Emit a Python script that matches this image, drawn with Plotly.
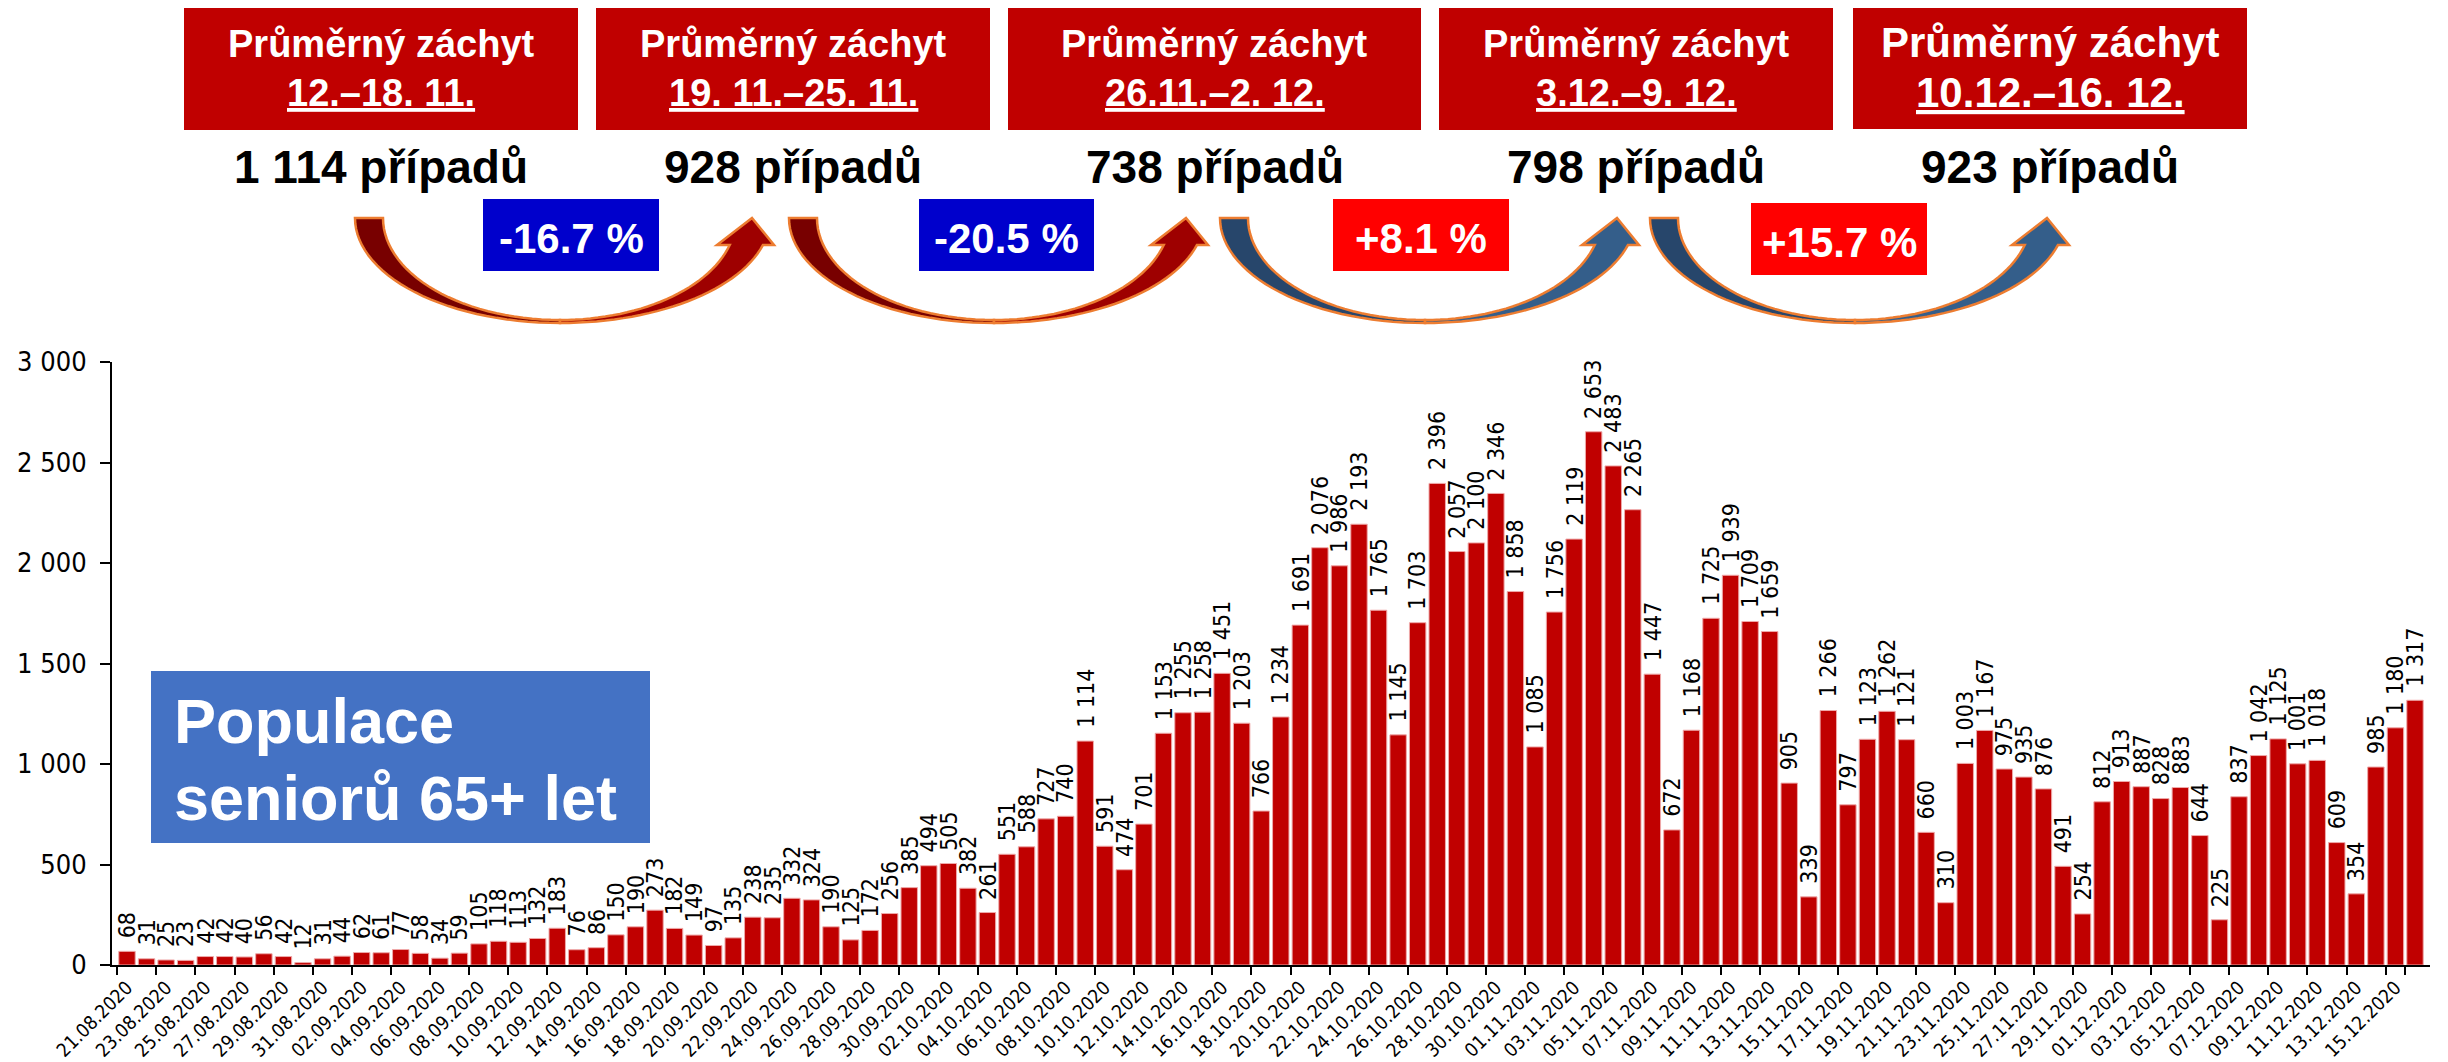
import math

import pandas as pd
import plotly.graph_objects as go

# daily new cases, population 65+
dates = pd.date_range("2020-08-21", "2020-12-16", freq="D").strftime("%d.%m.%Y").tolist()
cases = [
    68, 31, 25, 23, 42, 42, 40, 56, 42, 12, 31,
    44, 62, 61, 77, 58, 34, 59, 105, 118, 113, 132, 183, 76, 86, 150, 190, 273, 182, 149, 97,
    135, 238, 235, 332, 324, 190, 125, 172, 256, 385,
    494, 505, 382, 261, 551, 588, 727, 740, 1114, 591, 474, 701, 1153, 1255, 1258, 1451, 1203, 766,
    1234, 1691, 2076, 1986, 2193, 1765, 1145, 1703, 2396, 2057, 2100, 2346, 1858,
    1085, 1756, 2119, 2653, 2483, 2265, 1447, 672, 1168, 1725, 1939, 1709, 1659, 905, 339, 1266,
    797, 1123, 1262, 1121, 660, 310, 1003, 1167, 975, 935, 876, 491, 254, 812,
    913, 887, 828, 883, 644, 225, 837, 1042, 1125, 1001, 1018, 609, 354, 985, 1180, 1317,
]
tick_labels = dates[::2]

# weekly averages shown in the header
periods = ["12.–18. 11.", "19. 11.–25. 11.", "26.11.–2. 12.", "3.12.–9. 12.", "10.12.–16. 12."]
averages = [1114, 928, 738, 798, 923]
changes = [-16.7, -20.5, 8.1, 15.7]

NARROW = "Liberation Sans Narrow, DejaVu Sans Condensed, Arial Narrow, sans-serif"
SANS = "Liberation Sans, Arial, sans-serif"

# page is 2448x1062, the plot div sits 8px in from the top-left body margin
PAGE_W, PAGE_H, OFF = 2448, 1062, 8
L, R, T, B = 112, 2430, 362, 965  # plot area in page pixels


def px(x):
    return (x - L) / (R - L)


def py(y):
    return (B - y) / (B - T)


def num(v):
    return f"{v:,}".replace(",", " ")


fig = go.Figure(go.Bar(
    x=dates,
    y=cases,
    marker=dict(color="#C00000", line=dict(color="#EFA9A9", width=1)),
    hovertemplate="%{x}: %{y}<extra></extra>",
))

annotations = []
for d, v in zip(dates, cases):
    annotations.append(dict(
        x=d, y=v, xref="x", yref="y", text=num(v), textangle=-90,
        showarrow=False, xanchor="center", yanchor="bottom", yshift=11,
        font=dict(family=NARROW, size=23, color="black"),
    ))

shapes = []

# ── header: red period boxes and averages ────────────────────────────────
boxes = [(184, 578, 7, 130), (596, 990, 7, 130), (1008, 1421, 7, 130),
         (1439, 1833, 7, 130), (1853, 2247, 6, 129)]
for i, (x0, x1, y0, y1) in enumerate(boxes):
    shapes.append(dict(type="rect", xref="paper", yref="paper",
                       x0=px(x0), x1=px(x1), y0=py(y1), y1=py(y0),
                       fillcolor="#C00000", line=dict(width=0)))
    cx = (x0 + x1) / 2
    size = 42 if i == 4 else 38
    annotations.append(dict(
        x=px(cx), y=py(42 if i == 4 else 44), xref="paper", yref="paper",
        text="<b>Průměrný záchyt</b>", showarrow=False,
        xanchor="center", yanchor="middle",
        font=dict(family=SANS, size=size, color="white"),
    ))
    annotations.append(dict(
        x=px(cx), y=py(93), xref="paper", yref="paper",
        text=f"<b><u>{periods[i]}</u></b>", showarrow=False,
        xanchor="center", yanchor="middle",
        font=dict(family=SANS, size=size, color="white"),
    ))
    annotations.append(dict(
        x=px(cx), y=py(167), xref="paper", yref="paper",
        text=f"<b>{num(averages[i])} případů</b>", showarrow=False,
        xanchor="center", yanchor="middle",
        font=dict(family=SANS, size=46, color="black"),
    ))

# ── change boxes and curved arrows ────────────────────────────────────────
pct_boxes = [(483, 659, 199, 271), (919, 1094, 199, 271),
             (1333, 1509, 199, 271), (1751, 1927, 203, 275)]
arrow_dx = [0, 434, 865, 1295]


def arc(cx, cy, a, b, t0, t1, n=30):
    pts = []
    for k in range(n + 1):
        t = t0 + (t1 - t0) * k / n
        pts.append((cx + a * math.cos(t), cy + b * math.sin(t)))
    return pts


def path(pts):
    return "M " + " L ".join(f"{px(x):.5f},{py(y):.5f}" for x, y in pts) + " Z"


for i, ch in enumerate(changes):
    x0, x1, y0, y1 = pct_boxes[i]
    shapes.append(dict(type="rect", xref="paper", yref="paper",
                       x0=px(x0), x1=px(x1), y0=py(y1), y1=py(y0),
                       fillcolor="#0000CC" if ch < 0 else "#FF0000", line=dict(width=0)))
    annotations.append(dict(
        x=px((x0 + x1) / 2), y=py((y0 + y1) / 2 + 4), xref="paper", yref="paper",
        text=f"<b>{ch:+.1f} %</b>", showarrow=False,
        xanchor="center", yanchor="middle",
        font=dict(family=SANS, size=42, color="white"),
    ))

    dx = arrow_dx[i]
    cx, cy = 560 + dx, 218
    if ch < 0:
        dark, light = "#780000", "#9E0000"
    else:
        dark, light = "#27466B", "#345E8A"
    # left part: tail tapering towards the bottom
    left = arc(cx, cy, 205, 105, math.pi, math.pi / 2) + arc(cx, cy, 177, 102, math.pi / 2, math.pi)
    # right part: widening shaft with the head
    s_out, s_in = math.asin(27 / 105), math.asin(27 / 102)
    right = (arc(cx, cy, 210, 105, math.pi / 2, s_out)
             + [(774 + dx, 245), (752 + dx, 218), (717 + dx, 245)]
             + arc(cx, cy, 176, 102, s_in, math.pi / 2))
    for pts, col in ((left, dark), (right, light)):
        shapes.append(dict(type="path", xref="paper", yref="paper", path=path(pts),
                           fillcolor=col, line=dict(color="#ED7D31", width=2.5)))

# ── population label box ─────────────────────────────────────────────────
shapes.append(dict(type="rect", xref="paper", yref="paper",
                   x0=px(151), x1=px(650), y0=py(843), y1=py(671),
                   fillcolor="#4472C4", line=dict(width=0)))
for text, yc in (("Populace", 721), ("seniorů 65+ let", 798)):
    annotations.append(dict(
        x=px(172), y=py(yc), xref="paper", yref="paper",
        text=f"<b>{text}</b>", showarrow=False,
        xanchor="left", yanchor="middle",
        font=dict(family=SANS, size=63, color="white"),
    ))

fig.update_layout(
    width=PAGE_W - OFF,
    height=PAGE_H - OFF,
    autosize=False,
    margin=dict(l=L - OFF, r=PAGE_W - R, t=T - OFF, b=PAGE_H - B, pad=0),
    plot_bgcolor="white",
    paper_bgcolor="white",
    showlegend=False,
    bargap=0.16,
    separators=", ",
    shapes=shapes,
    annotations=annotations,
    xaxis=dict(
        type="category",
        automargin=False,
        tickvals=tick_labels,
        ticktext=tick_labels,
        tickangle=-45,
        tickson="boundaries",
        ticks="outside",
        ticklen=8,
        tickwidth=2,
        tickcolor="black",
        showline=True,
        linecolor="black",
        linewidth=2,
        showgrid=False,
        ticklabelstandoff=2,
        tickfont=dict(family=NARROW, size=19, color="black"),
    ),
    yaxis=dict(
        automargin=False,
        range=[0, 3000],
        dtick=500,
        tickformat=",d",
        ticks="outside",
        ticklen=10,
        tickwidth=2,
        tickcolor="black",
        showline=True,
        linecolor="black",
        linewidth=2,
        showgrid=False,
        zeroline=False,
        ticklabelstandoff=8,
        tickfont=dict(family=NARROW, size=27, color="black"),
    ),
)

fig.write_html("out.html")
